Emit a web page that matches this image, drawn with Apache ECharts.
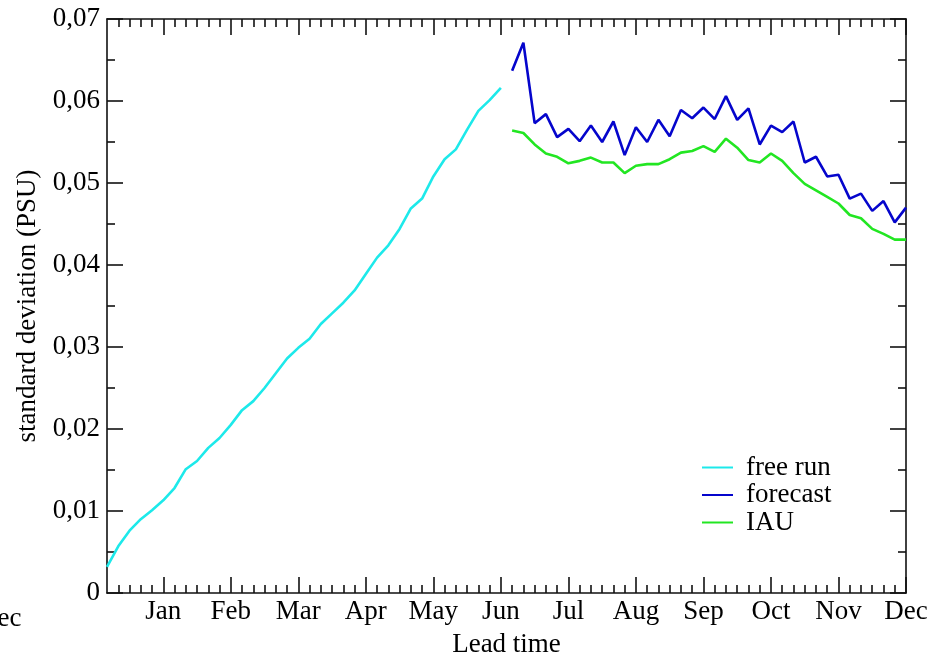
<!DOCTYPE html>
<html>
<head>
<meta charset="utf-8">
<script src="https://cdn.jsdelivr.net/npm/echarts@6/dist/echarts.min.js"></script>
<style>html,body{margin:0;padding:0;background:#fff}#c{width:940px;height:663px}</style>
</head>
<body>
<div id="c"></div>
<script>
// ---- data ----
const months = ['Jan','Feb','Mar','Apr','May','Jun','Jul','Aug','Sep','Oct','Nov','Dec'];
const monthTicks = [0,6,12,18,24,30,36,42,48,54,60,66];   // lead time in pentads
const yTickLabels = ['0','0,01','0,02','0,03','0,04','0,05','0,06','0,07'];

const freeRunStart = -5;
const freeRun = [0.0032,0.0057,0.0076,0.0090,0.0101,0.0113,0.0128,0.0151,0.0161,0.0177,
  0.0189,0.0205,0.0223,0.0234,0.0250,0.0268,0.0286,0.0299,0.0310,0.0328,
  0.0341,0.0354,0.0369,0.0389,0.0409,0.0424,0.0444,0.0469,0.0481,0.0508,
  0.0529,0.0541,0.0565,0.0588,0.0601,0.0616];

const assimStart = 31;
const forecast = [0.0637,0.0671,0.0573,0.0584,0.0556,0.0566,0.0551,0.0570,0.0550,0.0575,
  0.0534,0.0568,0.0550,0.0577,0.0557,0.0589,0.0579,0.0592,0.0578,0.0606,
  0.0577,0.0591,0.0547,0.0570,0.0562,0.0575,0.0525,0.0532,0.0508,0.0510,
  0.0481,0.0487,0.0466,0.0478,0.0452,0.0470];
const iau = [0.0564,0.0561,0.0547,0.0536,0.0532,0.0524,0.0527,0.0531,0.0525,0.0525,
  0.0512,0.0521,0.0523,0.0523,0.0529,0.0537,0.0539,0.0545,0.0538,0.0554,
  0.0543,0.0528,0.0525,0.0536,0.0527,0.0512,0.0499,0.0491,0.0483,0.0475,
  0.0461,0.0457,0.0444,0.0438,0.0431,0.0431];

// ---- build ----
const toPairs = (start, arr) => arr.map((v, i) => [start + i, v]);
const xMin = -5, xMax = 66;
const minorX = [];
for (let t = xMin + 1; t < xMax; t++) if (monthTicks.indexOf(t) < 0) minorX.push(t);

const FONT = 'Liberation Serif';
const axisCol = '#111';
const lineStyleAx = {color: axisCol, width: 1.6};

function xAx(pos, major, withLabels, withLine) {
  return {
    type: 'value', min: xMin, max: xMax, position: pos,
    axisLine: {show: withLine, onZero: false, lineStyle: lineStyleAx},
    axisTick: {show: true, inside: true, length: major ? 16 : 8, customValues: major ? monthTicks : minorX, lineStyle: lineStyleAx},
    axisLabel: withLabels ? {show: true, customValues: monthTicks, margin: 5,
      formatter: v => months[Math.round(v / 6)], color: '#000', fontFamily: FONT, fontSize: 27} : {show: false},
    splitLine: {show: false},
    name: withLabels ? 'Lead time' : '', nameLocation: 'middle', nameGap: 38,
    nameTextStyle: {color: '#000', fontFamily: FONT, fontSize: 27}
  };
}
function yAx(pos, withLabels) {
  return {
    type: 'value', min: 0, max: 0.07, interval: 0.01, position: pos,
    axisLine: {show: true, onZero: false, lineStyle: lineStyleAx},
    axisTick: {show: true, inside: true, length: 16, lineStyle: lineStyleAx},
    minorTick: {show: true, splitNumber: 2, length: 8, lineStyle: lineStyleAx},
    axisLabel: withLabels ? {show: true, margin: 7, color: '#000', fontFamily: FONT, fontSize: 27,
      formatter: v => yTickLabels[Math.round(v / 0.01)]} : {show: false},
    splitLine: {show: false}, minorSplitLine: {show: false},
    name: withLabels ? 'standard deviation (PSU)' : '', nameLocation: 'middle', nameGap: 56,
    nameTextStyle: {color: '#000', fontFamily: FONT, fontSize: 27}
  };
}

const chart = echarts.init(document.getElementById('c'), null, {renderer: 'canvas'});
chart.setOption({
  animation: false,
  backgroundColor: '#fff',
  grid: {left: 107, right: 34, top: 19, bottom: 68, containLabel: false},
  xAxis: [xAx('bottom', true, true, true), xAx('bottom', false, false, false),
          xAx('top', true, false, true), xAx('top', false, false, false)],
  yAxis: [yAx('left', true), yAx('right', false)],
  legend: {
    left: 697, top: 449, orient: 'vertical', itemGap: 0.5,
    itemWidth: 31, itemHeight: 2, icon: 'rect',
    textStyle: {color: '#000', fontFamily: FONT, fontSize: 27, lineHeight: 27, padding: [0, 0, 0, 8]},
    data: ['free run', 'forecast', 'IAU']
  },
  graphic: [{type: 'text', left: -22, top: 605, style: {text: 'Dec', font: '27px "Liberation Serif"', fill: '#000'}}],
  series: [
    {name: 'free run', type: 'line', data: toPairs(freeRunStart, freeRun), showSymbol: false,
     color: '#1de9ea', lineStyle: {width: 2.6, color: '#1de9ea'}},
    {name: 'forecast', type: 'line', data: toPairs(assimStart, forecast), showSymbol: false,
     color: '#0505cc', lineStyle: {width: 2.6, color: '#0505cc'}},
    {name: 'IAU', type: 'line', data: toPairs(assimStart, iau), showSymbol: false,
     color: '#22e622', lineStyle: {width: 2.6, color: '#22e622'}}
  ]
});
</script>
</body>
</html>
